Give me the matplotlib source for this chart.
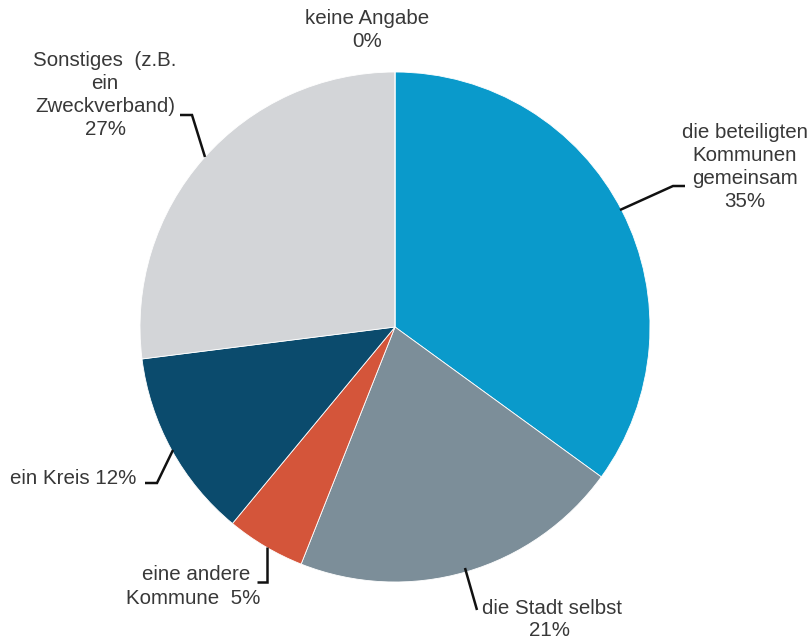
import matplotlib
matplotlib.use("Agg")
import matplotlib.pyplot as plt

plt.rcParams['font.family'] = ['Liberation Sans', 'DejaVu Sans']

categories = ["die beteiligten Kommunen gemeinsam", "die Stadt selbst", "eine andere Kommune",
              "ein Kreis", "Sonstiges (z.B. ein Zweckverband)", "keine Angabe"]
values = [35, 21, 5, 12, 27, 0]
colors = ["#0a9acb", "#7c8e99", "#d4553a", "#0b4b6d", "#d3d5d8", "#ffffff"]

W, H = 810, 641
fig = plt.figure(figsize=(W / 100, H / 100), dpi=100)
ax = fig.add_axes([0, 0, 1, 1])

cx, cy, r = 395, H - 327, 255
ax.pie(values, colors=colors, startangle=90, counterclock=False,
       center=(cx, cy), radius=r, frame=True,
       wedgeprops=dict(linewidth=0.6, edgecolor='white'))
ax.set_xlim(0, W)
ax.set_ylim(0, H)
ax.set_aspect('equal')
ax.axis('off')

tc = '#383838'
fs = 14.8

def T(x, y, s, ha='center'):
    ax.text(x, H - y, s, ha=ha, va='center', fontsize=fs, color=tc, linespacing=1.27)

def L(pts):
    ax.plot([p[0] for p in pts], [H - p[1] for p in pts], color='#111111', lw=1.8,
            solid_capstyle='butt', solid_joinstyle='miter')

# labels
T(367, 30, "keine Angabe\n" + f"{values[5]}%")
T(105, 95, "Sonstiges  (z.B.\nein\nZweckverband)\n" + f"{values[4]}%")
T(745, 167, "die beteiligten\nKommunen\ngemeinsam\n" + f"{values[0]}%")
T(10, 478, f"ein Kreis {values[3]}%", ha='left')
T(250, 574, "eine andere", ha='right')
T(260, 598, f"Kommune  {values[2]}%", ha='right')
T(482, 609, "die Stadt selbst", ha='left')
T(550, 631, f"{values[1]}%")

# leader lines
L([(180, 115), (192, 115), (205, 157)])
L([(620, 210), (673, 186), (685, 186)])
L([(145, 483), (157, 483), (173, 450)])
L([(257, 582), (267, 582), (267, 547)])
L([(465, 568), (477, 610)])

fig.savefig("out.png", dpi=100, facecolor='white')
